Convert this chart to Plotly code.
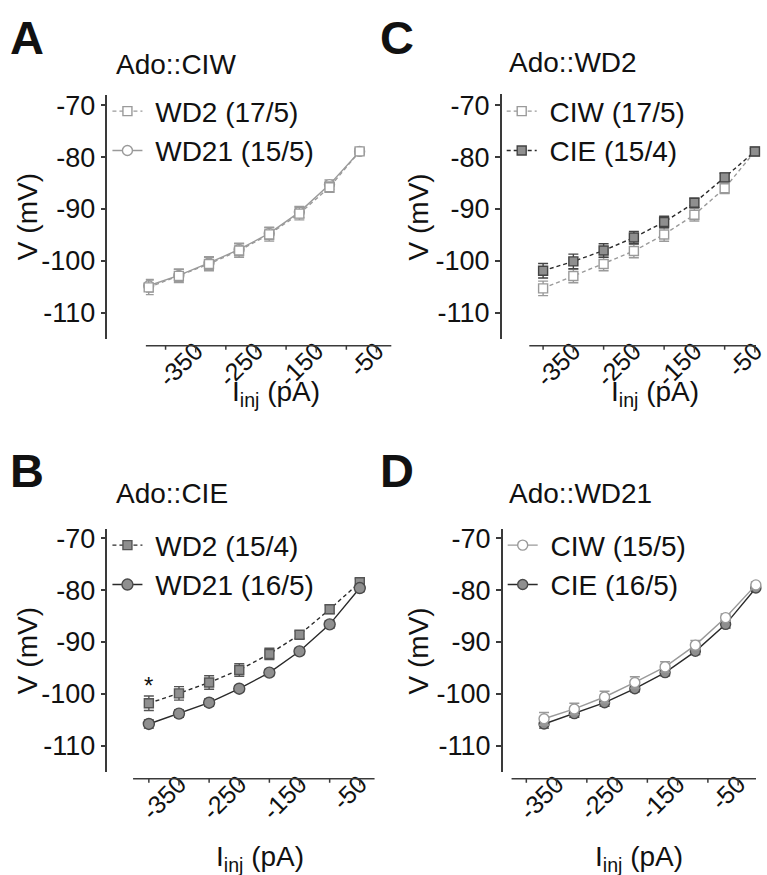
import plotly.graph_objects as go

W, H = 767, 875

# ---------------- data ----------------
I_INJ = [-400, -350, -300, -250, -200, -150, -100, -50]
X_TICKS = [-350, -250, -150, -50]
X_TICK_TEXT = ["-350", "-250", "-150", "-50"]
X_MINOR = [-400, -300, -200, -100]
Y_TICKS = [-70, -80, -90, -100, -110]
Y_TICK_TEXT = ["-70", "-80", "-90", "-100", "-110"]

# Panel A  Ado::CIW
A_WD2 = [-105.1, -102.9, -100.6, -98.0, -94.9, -90.9, -85.8, -78.9]
A_WD2_ERR = [1.4, 1.3, 1.3, 1.3, 1.3, 1.2, 1.0, 0.6]
A_WD21 = [-104.8, -102.8, -100.4, -97.8, -94.7, -90.6, -85.3, -78.9]
A_WD21_ERR = [1.2, 1.2, 1.2, 1.2, 1.2, 1.1, 0.9, 0.5]

# Panel B  Ado::CIE
B_WD2 = [-101.8, -99.9, -97.8, -95.4, -92.3, -88.6, -83.7, -78.5]
B_WD2_ERR = [1.4, 1.3, 1.3, 1.2, 1.1, 0.7, 0.8, 0.7]
B_WD21 = [-105.8, -103.8, -101.7, -99.0, -95.9, -91.8, -86.6, -79.6]
B_WD21_ERR = [0.8, 0.7, 0.7, 0.6, 0.6, 0.6, 0.7, 0.7]

# Panel C  Ado::WD2
C_CIW = [-105.3, -102.9, -100.6, -98.1, -94.9, -91.1, -86.0, -78.9]
C_CIW_ERR = [1.4, 1.3, 1.3, 1.3, 1.3, 1.2, 1.0, 0.6]
C_CIE = [-101.9, -100.1, -98.0, -95.5, -92.5, -88.8, -83.9, -78.9]
C_CIE_ERR = [1.4, 1.4, 1.3, 1.2, 1.1, 0.9, 0.8, 0.6]

# Panel D  Ado::WD21
D_CIW = [-104.8, -102.9, -100.6, -97.8, -94.8, -90.6, -85.3, -79.0]
D_CIW_ERR = [1.2, 1.1, 1.1, 1.1, 1.0, 0.9, 0.7, 0.6]
D_CIE = [-105.8, -103.8, -101.7, -99.0, -95.9, -91.8, -86.6, -79.6]
D_CIE_ERR = [0.8, 0.7, 0.7, 0.6, 0.6, 0.6, 0.7, 0.7]

# ---------------- helpers ----------------
def px(x):
    return x / W

def py(y):
    return 1 - y / H

FONT = "Liberation Sans, Arial, sans-serif"
AXC = "#3a3a3a"
LIGHT = "#9a9a9a"
GRAYFILL = "#8f8f8f"
DARK = "#2a2a2a"
NB = "\u00a0"

fig = go.Figure()

# 'shift': in panels A and D the original figure's tick scale is offset from the plotted points
panels = [
    dict(letter="A", title="Ado::CIW", lx=8, ly=32, tx=116, ty=59, ypos=108, ydom=(90, 335), yr=(-115.0, -68.1),
         xdom=(148, 397), xr=(-404.7, 2.6), shift=28.0, xline=342,
         vtx=28, vty=212, itx=280, ity=390, leg=(109, 81)),
    dict(letter="B", title="Ado::CIE", lx=8, ly=468, tx=116, ty=491, ypos=108, ydom=(527, 771), yr=(-115.0, -68.3),
         xdom=(135, 380), xr=(-426.2, -25.5), shift=0.0, xline=778,
         vtx=28, vty=649, itx=264, ity=858, leg=(109, 518)),
    dict(letter="C", title="Ado::WD2", lx=384, ly=32, tx=514, ty=57, ypos=508, ydom=(89, 335), yr=(-115.0, -67.9),
         xdom=(537, 767), xr=(-422.8, -48.2), shift=0.0, xline=342,
         vtx=425, vty=212, itx=665, ity=390, leg=(509, 81)),
    dict(letter="D", title="Ado::WD21", lx=384, ly=468, tx=514, ty=491, ypos=509, ydom=(527, 771), yr=(-115.0, -68.3),
         xdom=(519, 767), xr=(-453.7, -49.8), shift=-29.3, xline=778,
         vtx=425, vty=649, itx=648, ity=858, leg=(510, 518)),
]

series = [
    [dict(name="WD21 (15/5)", y=A_WD21, e=A_WD21_ERR, sym="circle", fill="white", edge=LIGHT, lc=LIGHT, dash="solid", size=10, rank=2),
     dict(name="WD2 (17/5)", y=A_WD2, e=A_WD2_ERR, sym="square", fill="white", edge=LIGHT, lc=LIGHT, dash="4px,3px", size=9, rank=1)],
    [dict(name="WD2 (15/4)", y=B_WD2, e=B_WD2_ERR, sym="square", fill=GRAYFILL, edge="#555555", lc=DARK, dash="4px,3px", size=9, rank=1),
     dict(name="WD21 (16/5)", y=B_WD21, e=B_WD21_ERR, sym="circle", fill=GRAYFILL, edge="#4a4a4a", lc=DARK, dash="solid", size=11, rank=2)],
    [dict(name="CIW (17/5)", y=C_CIW, e=C_CIW_ERR, sym="square", fill="white", edge=LIGHT, lc=LIGHT, dash="4px,3px", size=9, rank=1),
     dict(name="CIE (15/4)", y=C_CIE, e=C_CIE_ERR, sym="square", fill=GRAYFILL, edge="#444444", lc=DARK, dash="4px,3px", size=9, rank=2)],
    [dict(name="CIE (16/5)", y=D_CIE, e=D_CIE_ERR, sym="circle", fill=GRAYFILL, edge="#4a4a4a", lc=DARK, dash="solid", size=10, rank=2),
     dict(name="CIW (15/5)", y=D_CIW, e=D_CIW_ERR, sym="circle", fill="white", edge=LIGHT, lc=LIGHT, dash="solid", size=10, rank=1)],
]

layout = dict(
    width=W, height=H, margin=dict(l=0, r=0, t=0, b=0),
    paper_bgcolor="white", plot_bgcolor="rgba(0,0,0,0)",
    font=dict(family=FONT, color="#111111"),
    annotations=[], shapes=[],
)

for i, p in enumerate(panels):
    n = i + 1
    x_ax = "xaxis" if n == 1 else f"xaxis{n}"
    x_id = "x" if n == 1 else f"x{n}"
    y_ax = "yaxis" if n == 1 else f"yaxis{n}"
    y_id = "y" if n == 1 else f"y{n}"
    leg_key = "legend" if n == 1 else f"legend{n}"

    layout[x_ax] = dict(
        domain=[px(p["xdom"][0]), px(p["xdom"][1])], range=list(p["xr"]),
        anchor="free", position=py(p["xline"]),
        tickmode="array", tickvals=[v + p["shift"] for v in X_TICKS], ticktext=X_TICK_TEXT,
        tickangle=-45, ticklabelstandoff=-15, ticklabeloverflow="allow",
        ticks="", showline=False, showgrid=False, zeroline=False,
        tickfont=dict(size=25, family=FONT, color="#111111"),
        fixedrange=True,
    )
    layout[y_ax] = dict(
        domain=[py(p["ydom"][1]), py(p["ydom"][0])], range=list(p["yr"]),
        anchor="free", position=px(p["ypos"]),
        tickmode="array", tickvals=Y_TICKS, ticktext=Y_TICK_TEXT,
        ticks="outside", ticklen=5, tickwidth=1.5, tickcolor=AXC,
        showline=True, linecolor=AXC, linewidth=1.5, showgrid=False, zeroline=False,
        tickfont=dict(size=27, family=FONT, color="#111111"),
        fixedrange=True,
    )
    layout[leg_key] = dict(
        x=px(p["leg"][0]), y=py(p["leg"][1]), xanchor="left", yanchor="top",
        bgcolor="rgba(0,0,0,0)", borderwidth=0, tracegroupgap=0,
        font=dict(size=28, family=FONT, color="#111111"), itemwidth=30,
        traceorder="normal",
    )

    # x axis baseline and tick marks (axis decoration, placed through the x scale)
    shp = layout["shapes"]
    shp.append(dict(type="line", xref=f"{x_id} domain", x0=0, x1=1, yref="paper",
                    y0=py(p["xline"]), y1=py(p["xline"]), line=dict(color=AXC, width=1.5)))
    for v in X_TICKS:
        shp.append(dict(type="line", xref=x_id, x0=v + p["shift"], x1=v + p["shift"], yref="paper",
                        y0=py(p["xline"]), y1=py(p["xline"] + 7), line=dict(color=AXC, width=1.5)))
    for v in X_MINOR:
        shp.append(dict(type="line", xref=x_id, x0=v + p["shift"], x1=v + p["shift"], yref="paper",
                        y0=py(p["xline"]), y1=py(p["xline"] + 4), line=dict(color=AXC, width=1.5)))

    for s in series[i]:
        fig.add_trace(go.Scatter(
            x=I_INJ, y=s["y"], name=NB + s["name"], mode="lines+markers",
            xaxis=x_id, yaxis=y_id, legend=leg_key, legendrank=s["rank"],
            line=dict(color=s["lc"], width=1.4, dash=s["dash"]),
            marker=dict(symbol=s["sym"], size=s["size"], color=s["fill"],
                        line=dict(color=s["edge"], width=1.4)),
            error_y=dict(type="data", array=s["e"], color=s["edge"], thickness=1.4, width=5),
            cliponaxis=False,
        ))

    ann = layout["annotations"]
    ann.append(dict(text=f"<b>{p['letter']}</b>", x=px(p["lx"]), y=py(p["ly"]), xref="paper", yref="paper",
                    xanchor="left", yanchor="middle", showarrow=False,
                    font=dict(size=47, family=FONT, color="#111111")))
    ann.append(dict(text=p["title"], x=px(p["tx"]), y=py(p["ty"]), xref="paper", yref="paper",
                    xanchor="left", yanchor="middle", showarrow=False,
                    font=dict(size=28, family=FONT, color="#111111")))
    ann.append(dict(text="V (mV)", x=px(p["vtx"]), y=py(p["vty"]), xref="paper", yref="paper",
                    xanchor="center", yanchor="middle", textangle=-90, showarrow=False,
                    font=dict(size=28, family=FONT, color="#111111")))
    ann.append(dict(text="I<sub>inj</sub> (pA)", x=px(p["itx"]), y=py(p["ity"]), xref="paper", yref="paper",
                    xanchor="center", yanchor="middle", showarrow=False,
                    font=dict(size=28, family=FONT, color="#111111")))

layout["annotations"].append(dict(text="*", x=I_INJ[0], y=-98.3, xref="x2", yref="y2",
                                  xanchor="center", yanchor="middle", showarrow=False,
                                  font=dict(size=24, family=FONT, color="#111111")))

fig.update_layout(**layout)
fig.write_html("out.html", config={"displayModeBar": False},
               post_script="document.body.style.margin='0';document.body.style.padding='0';")
